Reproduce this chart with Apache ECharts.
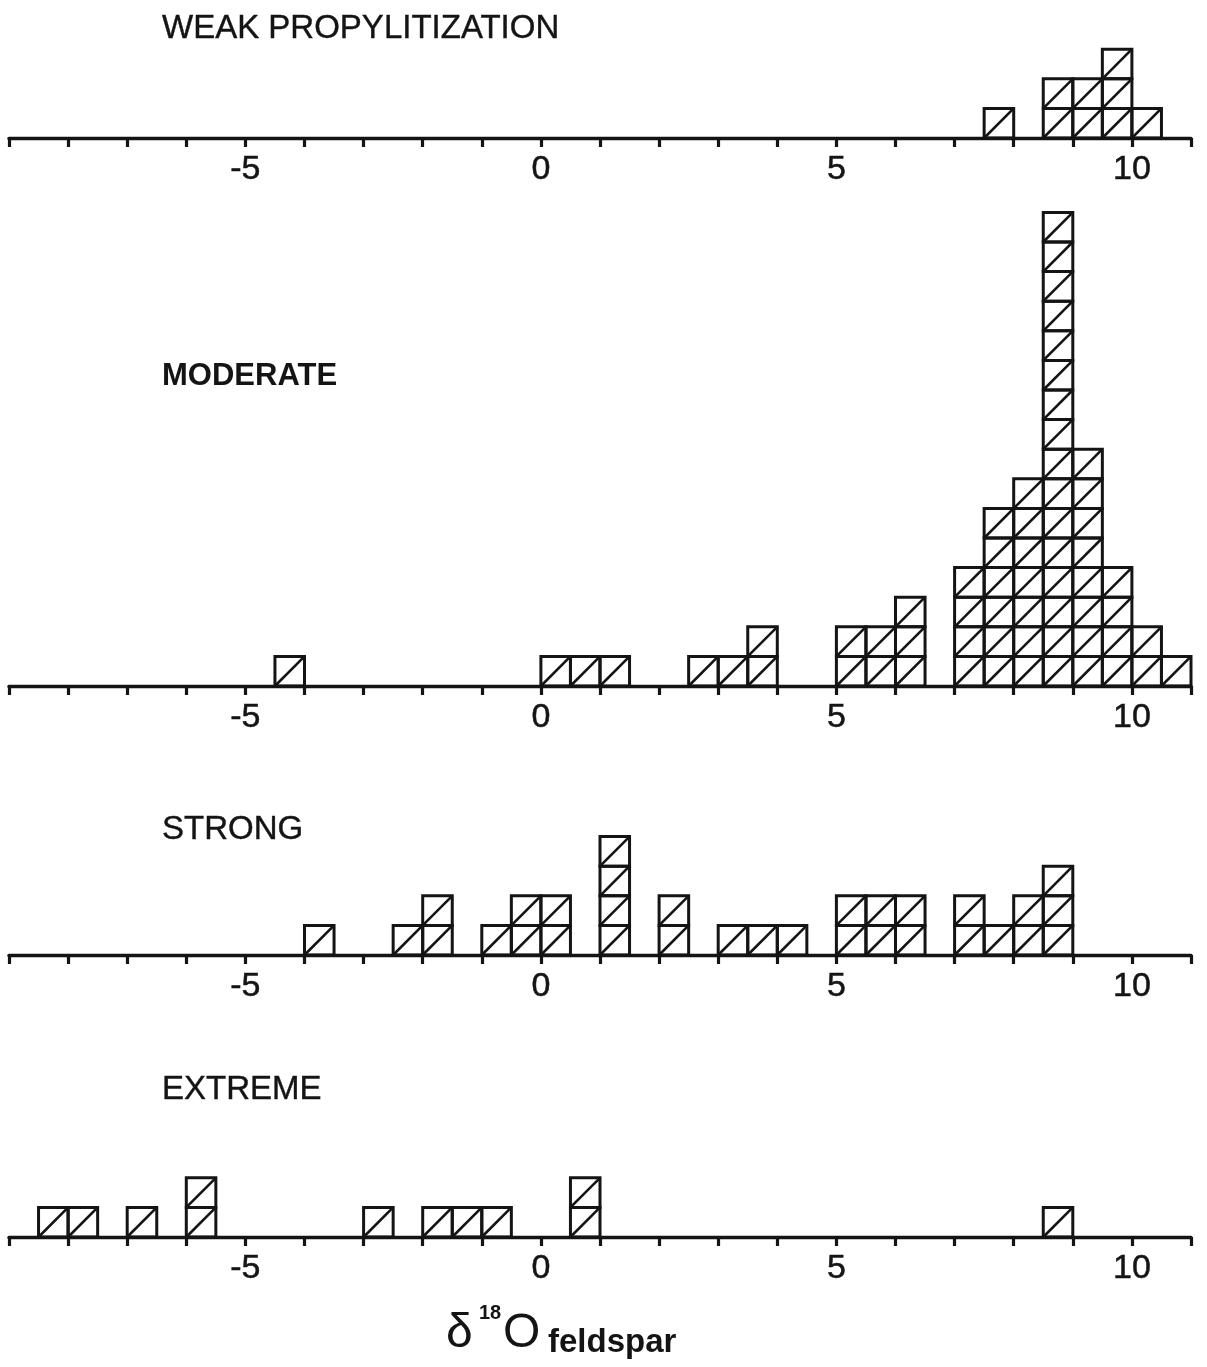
<!DOCTYPE html>
<html>
<head>
<meta charset="utf-8">
<title>δ18O feldspar by alteration intensity</title>
<script src="https://cdn.jsdelivr.net/npm/echarts@6/dist/echarts.min.js"></script>
<style>
  html, body { margin: 0; padding: 0; background: #fff; }
  #chart { width: 1207px; height: 1367px; }
</style>
</head>
<body>
<div id="chart"></div>
<script>
// Histogram bins are 0.5 permil wide; each bin entry is the lower edge.
const xMin = -9;
const xMax = 11;
const binWidth = 0.5;
const tickLabels = ['-5', '0', '5', '10'];

const panelTitles = ['WEAK PROPYLITIZATION', 'MODERATE', 'STRONG', 'EXTREME'];

const weakBins = [7.5, 8.5, 9.0, 9.5, 10.0];
const weakCounts = [1, 2, 2, 3, 1];

const moderateBins = [-4.5, 0, 0.5, 1.0, 2.5, 3.0, 3.5, 5.0, 5.5, 6.0, 7.0, 7.5, 8.0, 8.5, 9.0, 9.5, 10.0, 10.5];
const moderateCounts = [1, 1, 1, 1, 1, 1, 2, 2, 2, 3, 4, 6, 7, 16, 8, 4, 2, 1];

const strongBins = [-4.0, -2.5, -2.0, -1.0, -0.5, 0, 1.0, 2.0, 3.0, 3.5, 4.0, 5.0, 5.5, 6.0, 7.0, 7.5, 8.0, 8.5];
const strongCounts = [1, 1, 2, 1, 2, 2, 4, 2, 1, 1, 1, 2, 2, 2, 2, 1, 2, 3];

const extremeBins = [-8.5, -8.0, -7.0, -6.0, -3.0, -2.0, -1.5, -1.0, 0.5, 8.5];
const extremeCounts = [1, 1, 1, 2, 1, 1, 1, 1, 2, 1];

const panels = [
  { bins: weakBins, counts: weakCounts, yMax: 3, axisY: 138, titleTop: 12 },
  { bins: moderateBins, counts: moderateCounts, yMax: 16, axisY: 686, titleTop: 361 },
  { bins: strongBins, counts: strongCounts, yMax: 4, axisY: 955, titleTop: 813 },
  { bins: extremeBins, counts: extremeCounts, yMax: 2, axisY: 1237, titleTop: 1073 }
];

const unitPx = 29.6;      // vertical size of one sample box
const ink = '#141414';
const fontFamily = '"Liberation Sans", "DejaVu Sans", sans-serif';

// One square per sample, stacked in its bin, each with a "/" hatch stroke.
function renderStack(params, api) {
  const x0 = api.value(0);
  const n = api.value(1);
  const children = [];
  for (let k = 0; k < n; k++) {
    const bl = api.coord([x0, k]);
    const tr = api.coord([x0 + binWidth, k + 1]);
    children.push({
      type: 'rect',
      shape: { x: bl[0], y: tr[1], width: tr[0] - bl[0], height: bl[1] - tr[1] },
      style: { fill: 'transparent', stroke: ink, lineWidth: 3 }
    });
    children.push({
      type: 'line',
      shape: { x1: bl[0], y1: bl[1], x2: tr[0], y2: tr[1] },
      style: { stroke: ink, lineWidth: 2.6 }
    });
  }
  return { type: 'group', children: children };
}

const grids = [], xAxes = [], yAxes = [], series = [], titles = [];
panels.forEach(function (p, i) {
  const h = p.yMax * unitPx;
  grids.push({ left: 9, right: 16, top: p.axisY - h, height: h });
  xAxes.push({
    type: 'value', gridIndex: i, min: xMin, max: xMax, interval: 1,
    splitLine: { show: false },
    axisLine: { show: true, onZero: false, lineStyle: { color: ink, width: 3.4 } },
    axisTick: { show: true, inside: false, length: 9, lineStyle: { color: ink, width: 3.2 } },
    axisLabel: {
      show: true, margin: 15, color: ink, fontSize: 34, fontFamily: fontFamily,
      textBorderColor: ink, textBorderWidth: 0.5,
      showMinLabel: true, showMaxLabel: true,
      formatter: function (v) {
        const s = String(v);
        return tickLabels.indexOf(s) >= 0 ? s : '';
      }
    }
  });
  yAxes.push({ type: 'value', gridIndex: i, min: 0, max: p.yMax, show: false, splitLine: { show: false } });
  series.push({
    type: 'custom', xAxisIndex: i, yAxisIndex: i,
    renderItem: renderStack,
    data: p.bins.map(function (b, j) { return [b, p.counts[j]]; }),
    z: 5
  });
  const bold = i === 1;
  titles.push({
    text: panelTitles[i], left: 162, top: p.titleTop, padding: 0,
    textStyle: {
      color: ink, fontSize: bold ? 31 : 33, fontWeight: bold ? 'bold' : 'normal', fontFamily: fontFamily,
      textBorderColor: ink, textBorderWidth: bold ? 0 : 0.4
    }
  });
});

const chart = echarts.init(document.getElementById('chart'), null, { renderer: 'canvas' });
chart.setOption({
  backgroundColor: '#fff',
  animation: false,
  title: titles,
  grid: grids,
  xAxis: xAxes,
  yAxis: yAxes,
  series: series,
  graphic: [
    { type: 'text', left: 446, top: 1310, style: { text: 'δ', fill: ink, font: '48px ' + fontFamily } },
    { type: 'text', left: 479, top: 1303, style: { text: '18', fill: ink, font: 'bold 20px ' + fontFamily } },
    { type: 'text', left: 503, top: 1310, style: { text: 'O', fill: ink, font: '48px ' + fontFamily } },
    { type: 'text', left: 548, top: 1326, style: { text: 'feldspar', fill: ink, font: 'bold 33px ' + fontFamily } }
  ]
});
</script>
</body>
</html>
